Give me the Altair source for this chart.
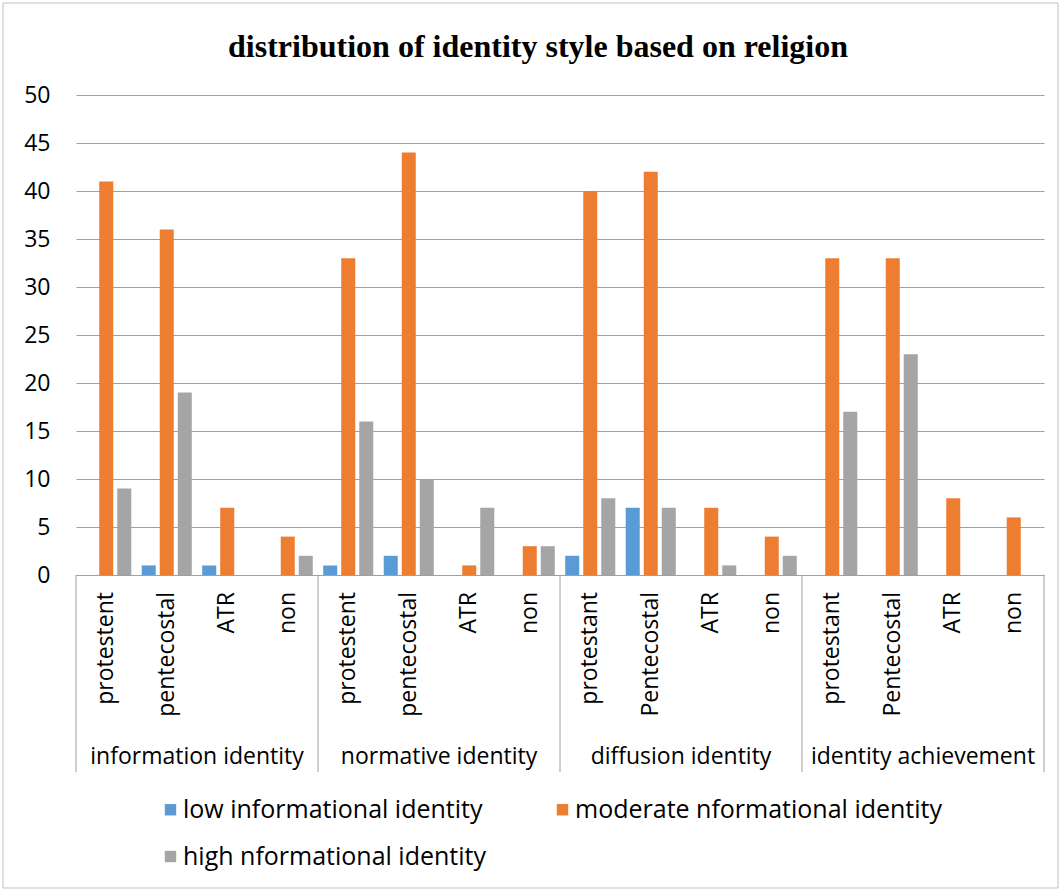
import altair as alt
import pandas as pd

title_text = "distribution of identity style based on religion"
groups = ["information identity", "normative identity", "diffusion identity", "identity achievement"]
religions = [
    ["protestent", "pentecostal", "ATR", "non"],
    ["protestent", "pentecostal", "ATR", "non"],
    ["protestant", "Pentecostal", "ATR", "non"],
    ["protestant", "Pentecostal", "ATR", "non"],
]
series = ["low informational identity", "moderate nformational identity", "high nformational identity"]
low = [0, 1, 1, 0, 1, 2, 0, 0, 2, 7, 0, 0, 0, 0, 0, 0]
moderate = [41, 36, 7, 4, 33, 44, 1, 3, 40, 42, 7, 4, 33, 33, 8, 6]
high = [9, 19, 0, 2, 16, 10, 7, 3, 8, 7, 1, 2, 17, 23, 0, 0]
colors = ["#5B9BD5", "#ED7D31", "#A5A5A5"]
y_ticks = [0, 5, 10, 15, 20, 25, 30, 35, 40, 45, 50]

FONT = "Open Sans"
FS = 23
TXT = "#000000"
GRID = "#A0A0A0"

keys, cat_rows = [], []
for g, rels in zip(groups, religions):
    for r in rels:
        k = g + "|" + r
        keys.append(k)
        cat_rows.append({"key": k, "religion": r, "group": g})
cat_df = pd.DataFrame(cat_rows)

rows = []
for i, k in enumerate(keys):
    for s, vals in zip(series, [low, moderate, high]):
        rows.append({"key": k, "series": s, "value": vals[i]})
df = pd.DataFrame(rows)

group_starts = pd.DataFrame({"key": [keys[i * 4] for i in range(len(groups))]})
group_end = pd.DataFrame({"key": [keys[-1]]})
group_mid = pd.DataFrame({"key": [keys[i * 4 + 1] for i in range(len(groups))], "group": groups})

x_scale = alt.Scale(domain=keys, paddingInner=0, paddingOuter=0)
x_axis = alt.Axis(labels=False, ticks=False, title=None, grid=False, domain=True,
                  domainColor=GRID, domainWidth=1)

bars = alt.Chart(df).mark_bar().encode(
    x=alt.X("key:N", scale=x_scale, axis=x_axis, sort=keys),
    xOffset=alt.XOffset("series:N", scale=alt.Scale(domain=series, paddingInner=0.222, paddingOuter=0.29), sort=series),
    y=alt.Y("value:Q", scale=alt.Scale(domain=[0, 50], nice=False, zero=True),
            axis=alt.Axis(values=y_ticks, title=None, grid=True, gridColor=GRID, gridWidth=1,
                          domain=False, ticks=False, labelFont=FONT, labelFontSize=FS,
                          labelColor=TXT, labelPadding=26)),
    color=alt.Color("series:N", scale=alt.Scale(domain=series, range=colors), sort=series,
                    legend=alt.Legend(title=None, orient="none", legendX=82, legendY=702,
                                      columns=2, columnPadding=63, rowPadding=21,
                                      symbolType="square", symbolSize=130, symbolStrokeWidth=0,
                                      labelFont=FONT, labelFontSize=25, labelColor=TXT,
                                      labelLimit=0, labelOffset=0, padding=0, direction="horizontal")),
)

cat_labels = alt.Chart(cat_df).mark_text(angle=270, align="right", baseline="middle",
                                         font=FONT, fontSize=FS, color=TXT).encode(
    x=alt.X("key:N", scale=x_scale, axis=x_axis, sort=keys),
    y=alt.value(497),
    text="religion:N",
)

grp_labels = alt.Chart(group_mid).mark_text(align="center", baseline="middle",
                                            font=FONT, fontSize=FS, color=TXT).encode(
    x=alt.X("key:N", scale=x_scale, axis=x_axis, sort=keys, bandPosition=1),
    y=alt.value(662),
    text="group:N",
)

seps = alt.Chart(group_starts).mark_rule(color=GRID, strokeWidth=1).encode(
    x=alt.X("key:N", scale=x_scale, axis=x_axis, sort=keys, bandPosition=0),
    y=alt.value(480), y2=alt.value(677),
)
sep_end = alt.Chart(group_end).mark_rule(color=GRID, strokeWidth=1).encode(
    x=alt.X("key:N", scale=x_scale, axis=x_axis, sort=keys, bandPosition=1),
    y=alt.value(480), y2=alt.value(677),
)

frame = alt.Chart(alt.Data(values=[{"a": 1}])).mark_rect(fillOpacity=0, stroke="#BFBFBF", strokeWidth=1).encode(
    x=alt.value(-73), x2=alt.value(982), y=alt.value(-92), y2=alt.value(793),
)

title = alt.Chart(alt.Data(values=[{"t": title_text}])).mark_text(
    font="Liberation Serif", fontSize=32, fontWeight="bold", color=TXT,
    align="center", baseline="middle").encode(
    x=alt.value(462), y=alt.value(-48), text="t:N",
)

chart = alt.layer(frame, title, bars, seps, sep_end, cat_labels, grp_labels).properties(
    width=968, height=480,
    autosize=alt.AutoSizeParams(type="none"),
    padding={"left": 76, "top": 95, "right": 19, "bottom": 317},
    background="white",
).configure_view(strokeWidth=0)

chart.save("out.html", embed_options={"renderer": "svg", "actions": False})
